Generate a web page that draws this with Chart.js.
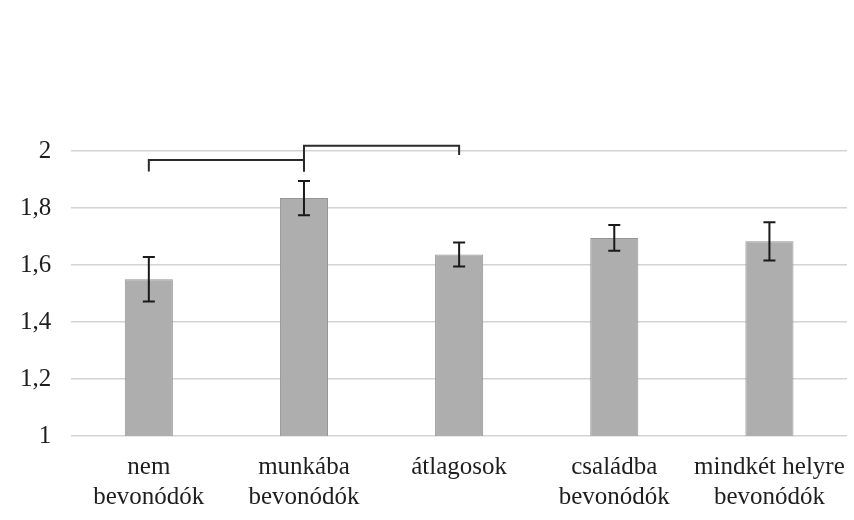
<!DOCTYPE html>
<html>
<head>
<meta charset="utf-8">
<script src="https://cdn.jsdelivr.net/npm/chart.js@4/dist/chart.umd.min.js"></script>
<style>
  html, body { margin: 0; padding: 0; background: #ffffff; }
  #wrap { width: 854px; height: 520px; position: relative; }
</style>
</head>
<body>
<div id="wrap"><canvas id="c" width="854" height="520"></canvas></div>
<script>
// ---- data ----
const categories = [
  ["nem", "bevonódók"],
  ["munkába", "bevonódók"],
  ["átlagosok"],
  ["családba", "bevonódók"],
  ["mindkét helyre", "bevonódók"]
];
const means = [1.55, 1.835, 1.637, 1.695, 1.683];
const errors = [0.078, 0.06, 0.042, 0.045, 0.067];
const yTicks = [1, 1.2, 1.4, 1.6, 1.8, 2];

// significance brackets: from category index, to category index, bar level, left drop, right drop
const bracketFrom  = [0, 1];
const bracketTo    = [1, 2];
const bracketLevel = [1.968, 2.018];
const bracketLeftEnd  = [1.928, 1.928];
const bracketRightEnd = [1.928, 1.986];

const errorBarPlugin = {
  id: 'errorBars',
  afterDatasetsDraw(chart) {
    const ctx = chart.ctx;
    const x = chart.scales.x, y = chart.scales.y;
    ctx.save();
    ctx.strokeStyle = '#1a1a1a';
    ctx.lineWidth = 2;
    means.forEach((m, i) => {
      const cx = x.getPixelForValue(i);
      const top = y.getPixelForValue(m + errors[i]);
      const bot = y.getPixelForValue(m - errors[i]);
      ctx.beginPath();
      ctx.moveTo(cx, top); ctx.lineTo(cx, bot);
      ctx.moveTo(cx - 6, top); ctx.lineTo(cx + 6, top);
      ctx.moveTo(cx - 6, bot); ctx.lineTo(cx + 6, bot);
      ctx.stroke();
    });
    ctx.strokeStyle = '#2a2a2a';
    bracketFrom.forEach((f, k) => {
      const x1 = x.getPixelForValue(f);
      const x2 = x.getPixelForValue(bracketTo[k]);
      const yl = y.getPixelForValue(bracketLevel[k]);
      ctx.beginPath();
      ctx.moveTo(x1, y.getPixelForValue(bracketLeftEnd[k]));
      ctx.lineTo(x1, yl);
      ctx.lineTo(x2, yl);
      ctx.lineTo(x2, y.getPixelForValue(bracketRightEnd[k]));
      ctx.stroke();
    });
    ctx.restore();
  }
};

new Chart(document.getElementById('c'), {
  type: 'bar',
  data: {
    labels: categories,
    datasets: [{
      data: means,
      backgroundColor: '#aeaeae',
      borderColor: '#959595',
      borderWidth: 1,
      categoryPercentage: 1,
      barPercentage: 0.31
    }]
  },
  options: {
    responsive: false,
    animation: false,
    devicePixelRatio: 1,
    layout: { padding: { top: 151, left: 0, right: 7, bottom: 0 } },
    plugins: { legend: { display: false }, tooltip: { enabled: false } },
    scales: {
      x: {
        grid: { display: false },
        border: { display: false },
        ticks: {
          color: '#1e1e1e',
          font: { family: '"Liberation Serif", "Times New Roman", serif', size: 25, lineHeight: 1.2 },
          padding: 8,
          maxRotation: 0,
          autoSkip: false
        }
      },
      y: {
        min: 1,
        max: 2,
        afterBuildTicks(axis) { axis.ticks = yTicks.map(v => ({ value: v })); },
        grid: { color: '#d3d3d3', lineWidth: 1.5, drawTicks: false },
        border: { display: false },
        ticks: {
          color: '#1e1e1e',
          font: { family: '"Liberation Serif", "Times New Roman", serif', size: 25 },
          padding: 20,
          callback: v => String(Math.round(v * 10) / 10).replace('.', ',')
        }
      }
    }
  },
  plugins: [errorBarPlugin]
});
</script>
</body>
</html>
